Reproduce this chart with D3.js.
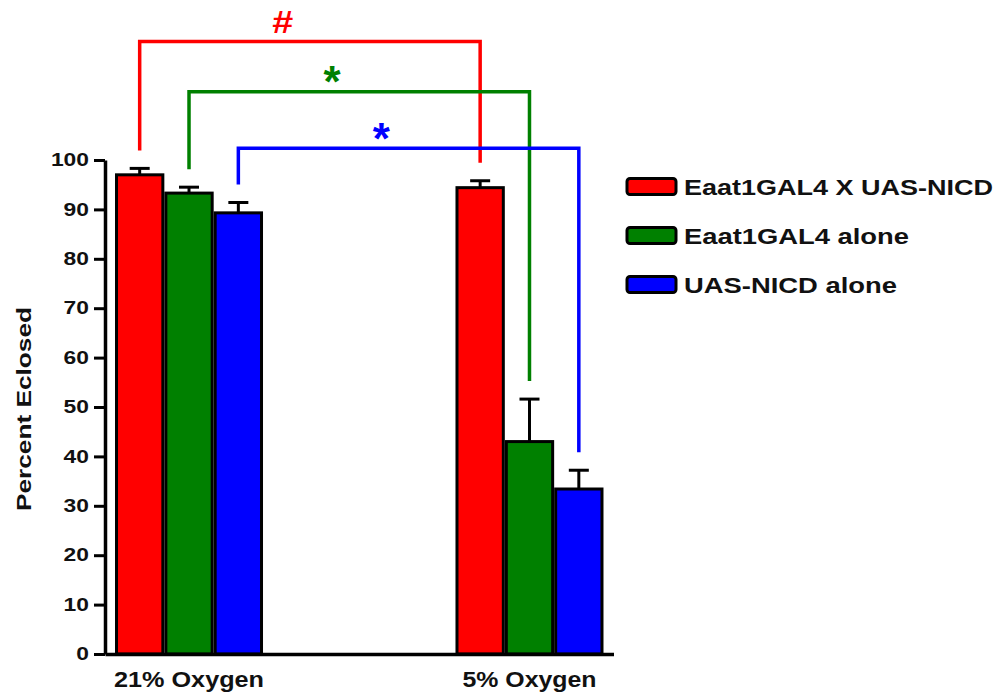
<!DOCTYPE html>
<html>
<head>
<meta charset="utf-8">
<script src="https://cdn.jsdelivr.net/npm/d3@7"></script>
<style>
  html, body { margin: 0; padding: 0; background: #ffffff; }
  svg { display: block; font-family: "Liberation Sans", Arial, sans-serif; }
</style>
</head>
<body>
<svg id="chart" width="1005" height="694"></svg>
<script>
// Eclosion rates under normoxia vs hypoxia
const categories = ["21% Oxygen", "5% Oxygen"];
const seriesNames = ["Eaat1GAL4 X UAS-NICD", "Eaat1GAL4 alone", "UAS-NICD alone"];
const seriesColors = ["#ff0000", "#008000", "#0000ff"];

// Mean percent eclosed per condition
const crossMeans = [97.0, 94.4];
const gal4Means = [93.3, 43.0];
const nicdMeans = [89.3, 33.4];

// Standard error of each mean
const crossErr = [1.3, 1.4];
const gal4Err = [1.2, 8.6];
const nicdErr = [2.1, 3.8];

const yTicks = [0, 10, 20, 30, 40, 50, 60, 70, 80, 90, 100];

// Significance brackets: one per series, comparing the two oxygen levels
const bracketLabels = ["#", "*", "*"];
const bracketLevels = [124, 113.8, 102.4];

const means = [crossMeans, gal4Means, nicdMeans];
const errs = [crossErr, gal4Err, nicdErr];

const svg = d3.select("#chart");
const font = "\"Liberation Sans\", Arial, sans-serif";

const y = d3.scaleLinear().domain([0, 100]).range([654, 160]);
const x0 = d3.scaleBand().domain(categories).range([105, 613.5])
  .paddingInner(0.5653).paddingOuter(0.0294);
const x1 = d3.scaleBand().domain(seriesNames).range([0, x0.bandwidth()]).padding(0);

const barCenter = (si, ci) => x0(categories[ci]) + x1(seriesNames[si]) + x1.bandwidth() / 2;

// Bars
const barData = [];
seriesNames.forEach((s, si) => categories.forEach((c, ci) => {
  barData.push({ si, ci, v: means[si][ci], e: errs[si][ci] });
}));

svg.append("g").selectAll("rect").data(barData).join("rect")
  .attr("x", d => x0(categories[d.ci]) + x1(seriesNames[d.si]) + 1.5)
  .attr("width", x1.bandwidth() - 3)
  .attr("y", d => y(d.v))
  .attr("height", d => y(0) - y(d.v))
  .attr("fill", d => seriesColors[d.si])
  .attr("stroke", "#000")
  .attr("stroke-width", 3);

// Error bars (upper half only)
const eb = svg.append("g").attr("stroke", "#000").attr("stroke-width", 3);
eb.selectAll("line.stem").data(barData).join("line").attr("class", "stem")
  .attr("x1", d => barCenter(d.si, d.ci)).attr("x2", d => barCenter(d.si, d.ci))
  .attr("y1", d => y(d.v)).attr("y2", d => y(d.v + d.e));
eb.selectAll("line.cap").data(barData).join("line").attr("class", "cap")
  .attr("x1", d => barCenter(d.si, d.ci) - 10).attr("x2", d => barCenter(d.si, d.ci) + 10)
  .attr("y1", d => y(d.v + d.e)).attr("y2", d => y(d.v + d.e));

// Y axis
const yAxis = svg.append("g").attr("transform", "translate(105,0)")
  .call(d3.axisLeft(y).tickValues(yTicks).tickSize(11).tickSizeOuter(0).tickPadding(5));
yAxis.select(".domain").attr("stroke", "#000").attr("stroke-width", 3.5);
yAxis.selectAll(".tick line").attr("stroke", "#000").attr("stroke-width", 3);
yAxis.selectAll(".tick text")
  .attr("font-family", font).attr("font-size", 18).attr("font-weight", "bold").attr("fill", "#111")
  .attr("textLength", d => String(d).length * 12.7).attr("lengthAdjust", "spacingAndGlyphs");

// X axis
const xAxis = svg.append("g").attr("transform", `translate(0,${y(0)})`)
  .call(d3.axisBottom(x0).tickSize(0).tickSizeOuter(0).tickPadding(17));
xAxis.select(".domain").attr("stroke", "#000").attr("stroke-width", 3.5);
const xLabelWidths = [150, 134];
xAxis.selectAll(".tick text")
  .attr("font-family", font).attr("font-size", 22).attr("font-weight", "bold").attr("fill", "#111")
  .attr("textLength", (d, i) => xLabelWidths[i]).attr("lengthAdjust", "spacingAndGlyphs");

// Y axis title
svg.append("text")
  .attr("transform", "translate(31,409) rotate(-90)")
  .attr("text-anchor", "middle")
  .attr("font-family", font).attr("font-size", 21).attr("font-weight", "bold").attr("fill", "#111")
  .attr("textLength", 204).attr("lengthAdjust", "spacingAndGlyphs")
  .text("Percent Eclosed");

// Significance brackets
const legGap = 18;
const bg = svg.append("g").attr("fill", "none").attr("stroke-width", 3.5);
seriesNames.forEach((s, si) => {
  const xa = barCenter(si, 0), xb = barCenter(si, 1);
  const top = y(bracketLevels[si]);
  const ya = y(means[si][0] + errs[si][0]) - legGap;
  const yb = y(means[si][1] + errs[si][1]) - legGap;
  bg.append("path")
    .attr("d", `M${xa},${ya}V${top}H${xb}V${yb}`)
    .attr("stroke", seriesColors[si]);
  const lx = xa + (xb - xa) * 0.42;
  const isStar = bracketLabels[si] === "*";
  const fs = isStar ? 44 : 31;
  const labelCenter = top - 20;
  const t = svg.append("text")
    .attr("x", lx)
    .attr("y", labelCenter + (isStar ? 0.58 : 0.36) * fs)
    .attr("text-anchor", "middle")
    .attr("font-family", font).attr("font-size", fs).attr("font-weight", "bold")
    .attr("fill", seriesColors[si])
    .text(bracketLabels[si]);
  if (!isStar) t.attr("textLength", 21).attr("lengthAdjust", "spacingAndGlyphs");
});

// Legend
const legendWidths = [309, 225, 213];
const legendRowY = d3.scaleLinear().domain([0, 2]).range([186.5, 284.5]);
const lg = svg.append("g");
seriesNames.forEach((s, si) => {
  const cy = legendRowY(si);
  lg.append("rect")
    .attr("x", 627).attr("y", cy - 8).attr("width", 49).attr("height", 16)
    .attr("rx", 3).attr("fill", seriesColors[si])
    .attr("stroke", "#000").attr("stroke-width", 3);
  lg.append("text")
    .attr("x", 684).attr("y", cy + 8)
    .attr("font-family", font).attr("font-size", 22).attr("font-weight", "bold").attr("fill", "#111")
    .attr("textLength", legendWidths[si]).attr("lengthAdjust", "spacingAndGlyphs")
    .text(s);
});
</script>
</body>
</html>
